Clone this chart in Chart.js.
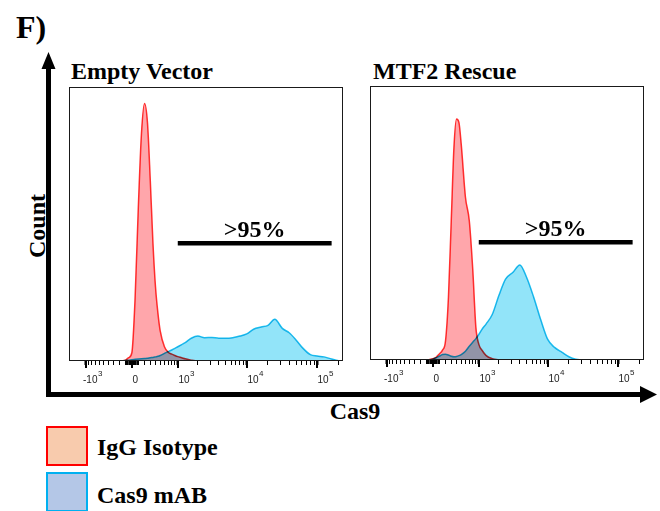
<!DOCTYPE html>
<html>
<head>
<meta charset="utf-8">
<script src="https://cdn.jsdelivr.net/npm/chart.js@4.4.1/dist/chart.umd.min.js"></script>
<style>
  body { margin: 0; background: #fff; }
  #fig { position: relative; width: 660px; height: 511px; overflow: hidden; font-family: "Liberation Serif", "Times New Roman", serif; font-weight: bold; color: #000; }
  .txt { position: absolute; line-height: 1; white-space: nowrap; }
  canvas { position: absolute; }
  .swatch { position: absolute; left: 46px; width: 42px; height: 40px; box-sizing: border-box; border: 2px solid; }
</style>
</head>
<body>
<div id="fig">
  <svg width="660" height="511" style="position:absolute;left:0;top:0">
    <rect x="46" y="66" width="5" height="331" fill="#000"/>
    <polygon points="48.5,52 41.5,69 55.5,69" fill="#000"/>
    <rect x="46" y="392" width="596" height="5" fill="#000"/>
    <polygon points="657,394.5 640,386 640,403" fill="#000"/>
  </svg>
  <div class="txt" style="left:16px;top:10.5px;font-size:32px">F)</div>
  <div class="txt" style="left:71px;top:58.5px;font-size:24px">Empty Vector</div>
  <div class="txt" style="left:373px;top:59px;font-size:24px">MTF2 Rescue</div>
  <div class="txt" style="left:-13px;top:214px;width:100px;text-align:center;font-size:24px;line-height:24px;transform:rotate(-90deg)">Count</div>
  <div class="txt" style="left:305px;top:399px;width:100px;text-align:center;font-size:24px">Cas9</div>

  <canvas id="emptyChart" width="296" height="310" style="left:59px;top:77px"></canvas>
  <canvas id="rescueChart" width="296" height="310" style="left:360px;top:76px"></canvas>

  <div class="swatch" style="top:426px;background:#f8cbad;border-color:#ff0000"></div>
  <div class="txt" style="left:97px;top:435px;font-size:24px">IgG Isotype</div>
  <div class="swatch" style="top:472px;background:#b4c7e7;border-color:#00b0f0"></div>
  <div class="txt" style="left:97px;top:483px;font-size:24px">Cas9 mAB</div>
</div>

<script>
// fluorescence intensity of each histogram bin (Cas9 channel)
const binValues = [-400, -200, -100, -50, 0, 50, 100, 150, 200, 250, 300, 350, 400, 450, 500,
  600, 700, 800, 900, 1000, 1150, 1300, 1600, 2000, 2500, 3200, 4000, 5000, 6300, 8000,
  10000, 12500, 16000, 20000, 25000, 32000, 40000, 50000, 63000, 80000, 100000, 125000, 160000, 200000];

// normalised count (% of mode scale) per bin
const emptyIgG = [0, 0, 0.3, 1.2, 3, 23, 56, 83, 94, 87, 66, 43, 27, 17.5, 11,
  5.2, 3.2, 2.5, 2.0, 1.6, 1.2, 0.8, 0.3, 0, 0, 0, 0, 0, 0, 0,
  0, 0, 0, 0, 0, 0, 0, 0, 0, 0, 0, 0, 0, 0];
const emptyCas9 = [0, 0, 0.2, 0.3, 0.5, 0.6, 0.7, 0.8, 0.9, 1.0, 1.2, 1.3, 1.5, 1.7, 2.0,
  2.8, 3.4, 4.0, 4.6, 5.2, 6.0, 6.7, 8.3, 9.1, 8.5, 8.6, 8.3, 8.3, 8.5, 9.1,
  9.9, 11.6, 12.4, 13.0, 15.2, 11.9, 10.3, 7.7, 4.6, 2.3, 1.8, 1.5, 0.7, 0.1];
const rescueIgG = [0, 0, 0, 0.2, 0.5, 1.0, 2.2, 3.6, 7, 23, 51, 77.6, 88, 86.7, 78.8,
  59.4, 50.9, 33.2, 11.9, 5.8, 3.2, 1.6, 0.5, 0.1, 0, 0, 0, 0, 0, 0,
  0, 0, 0, 0, 0, 0, 0, 0, 0, 0, 0, 0, 0, 0];
const rescueCas9 = [0, 0, 0, 0.1, 0.3, 0.8, 1.4, 2.0, 2.1, 1.8, 1.4, 1.2, 1.3, 1.6, 2.0,
  3.2, 5.0, 6.5, 7.8, 9.3, 11.6, 13.2, 16.6, 23.5, 29.5, 32, 34.7, 30.2, 23, 14.5,
  7.5, 4.6, 2.8, 1.2, 0.3, 0, 0, 0, 0, 0, 0, 0, 0, 0];

// gate: positive region and its height
const gateRange = [1000, 160000];
const gateLevel = 43;
const gateLabel = '>95%';

const axisRange = [-1800, 232000];
const majorTicks = [-1000, 0, 1000, 10000, 100000];
const majorBase = ['-10', '0', '10', '10', '10'];
const majorExp = ['3', '', '3', '4', '5'];

// biexponential-like display transform
function T(v) { return Math.asinh(v / 470); }

const tickMarks = [];
majorTicks.forEach((v, i) => tickMarks.push({ v: v, base: majorBase[i], exp: majorExp[i], major: true }));
for (let k = 1; k <= 9; k++) {
  tickMarks.push({ v: -k * 100, major: false });
  tickMarks.push({ v: k * 100, major: false });
  if (k > 1) {
    tickMarks.push({ v: k * 1000, major: false });
    tickMarks.push({ v: k * 10000, major: false });
  }
}
[-80, -60, -40, -20, 20, 40, 60, 80, 200000].forEach(v => tickMarks.push({ v: v, major: false }));
tickMarks.sort((a, b) => a.v - b.v);

const multiply = {
  id: 'multiply',
  beforeDatasetsDraw(chart) { chart.ctx.save(); chart.ctx.globalCompositeOperation = 'multiply'; },
  afterDatasetsDraw(chart) { chart.ctx.restore(); }
};

const frame = {
  id: 'frame',
  afterDraw(chart) {
    const a = chart.chartArea, ctx = chart.ctx;
    const xs = chart.scales.x, ys = chart.scales.y;
    ctx.save();
    ctx.strokeStyle = '#1a1a1a';
    ctx.lineWidth = 1;
    ctx.strokeRect(a.left + 0.5, a.top + 0.5, a.right - a.left - 1, a.bottom - a.top - 1);

    // major tick marks are longer, labels sit just right of the tick
    ctx.strokeStyle = '#000';
    ctx.fillStyle = '#222';
    ctx.textAlign = 'left';
    ctx.textBaseline = 'alphabetic';
    tickMarks.filter(t => t.major).forEach(t => {
      const px = Math.round(xs.getPixelForValue(T(t.v)));
      ctx.lineWidth = 2;
      ctx.beginPath();
      ctx.moveTo(px, a.bottom);
      ctx.lineTo(px, a.bottom + 7);
      ctx.stroke();
      ctx.font = '10px "Liberation Sans"';
      const x0 = px + (t.v < 0 ? -3 : 0.5);
      ctx.fillText(t.base, x0, a.bottom + 22);
      if (t.exp) {
        const w = ctx.measureText(t.base).width;
        ctx.font = '8px "Liberation Sans"';
        ctx.fillText(t.exp, x0 + w + 0.5, a.bottom + 15);
      }
    });

    const cx = (xs.getPixelForValue(T(gateRange[0])) + xs.getPixelForValue(T(gateRange[1]))) / 2;
    ctx.fillStyle = '#000';
    ctx.font = 'bold 24px "Liberation Serif"';
    ctx.textAlign = 'center';
    ctx.fillText(gateLabel, cx, ys.getPixelForValue(gateLevel) - 6);
    ctx.restore();
  }
};

function toPoints(series) {
  return binValues.map((v, i) => ({ x: T(v), y: series[i] }));
}

function makeChart(id, igg, cas9) {
  return new Chart(document.getElementById(id), {
    type: 'line',
    data: {
      datasets: [
        {
          label: 'IgG Isotype',
          data: toPoints(igg),
          borderColor: '#ff3434',
          backgroundColor: '#ffa6ab',
          borderWidth: 1.5,
          fill: 'origin',
          pointRadius: 0,
          cubicInterpolationMode: 'monotone'
        },
        {
          label: 'Cas9 mAB',
          data: toPoints(cas9),
          borderColor: '#1cc0ee',
          backgroundColor: '#92e4f9',
          borderWidth: 1.5,
          fill: 'origin',
          pointRadius: 0,
          cubicInterpolationMode: 'monotone'
        },
        {
          label: 'gate',
          data: gateRange.map(v => ({ x: T(v), y: gateLevel })),
          borderColor: '#000',
          borderWidth: 4.5,
          borderCapStyle: 'butt',
          fill: false,
          pointRadius: 0
        }
      ]
    },
    options: {
      responsive: false,
      animation: false,
      layout: { padding: { left: 10, right: 12, top: 10, bottom: 0 } },
      plugins: { legend: { display: false }, tooltip: { enabled: false } },
      scales: {
        x: {
          type: 'linear',
          min: T(axisRange[0]),
          max: T(axisRange[1]),
          border: { display: false },
          grid: {
            drawOnChartArea: false,
            drawTicks: true,
            tickLength: 4,
            tickColor: '#000',
            tickWidth: c => {
              const t = tickMarks[c.index];
              return t && (t.major || Math.abs(t.v) < 100) ? 2 : 1;
            }
          },
          ticks: {
            autoSkip: false,
            maxRotation: 0,
            padding: 5,
            font: { size: 10 },
            callback: () => ''
          },
          afterBuildTicks: s => { s.ticks = tickMarks.map(t => ({ value: T(t.v) })); },
          afterFit: s => { s.height = 26; }
        },
        y: { display: false, min: 0, max: 100 }
      }
    },
    plugins: [multiply, frame]
  });
}

makeChart('emptyChart', emptyIgG, emptyCas9);
makeChart('rescueChart', rescueIgG, rescueCas9);
</script>
</body>
</html>
